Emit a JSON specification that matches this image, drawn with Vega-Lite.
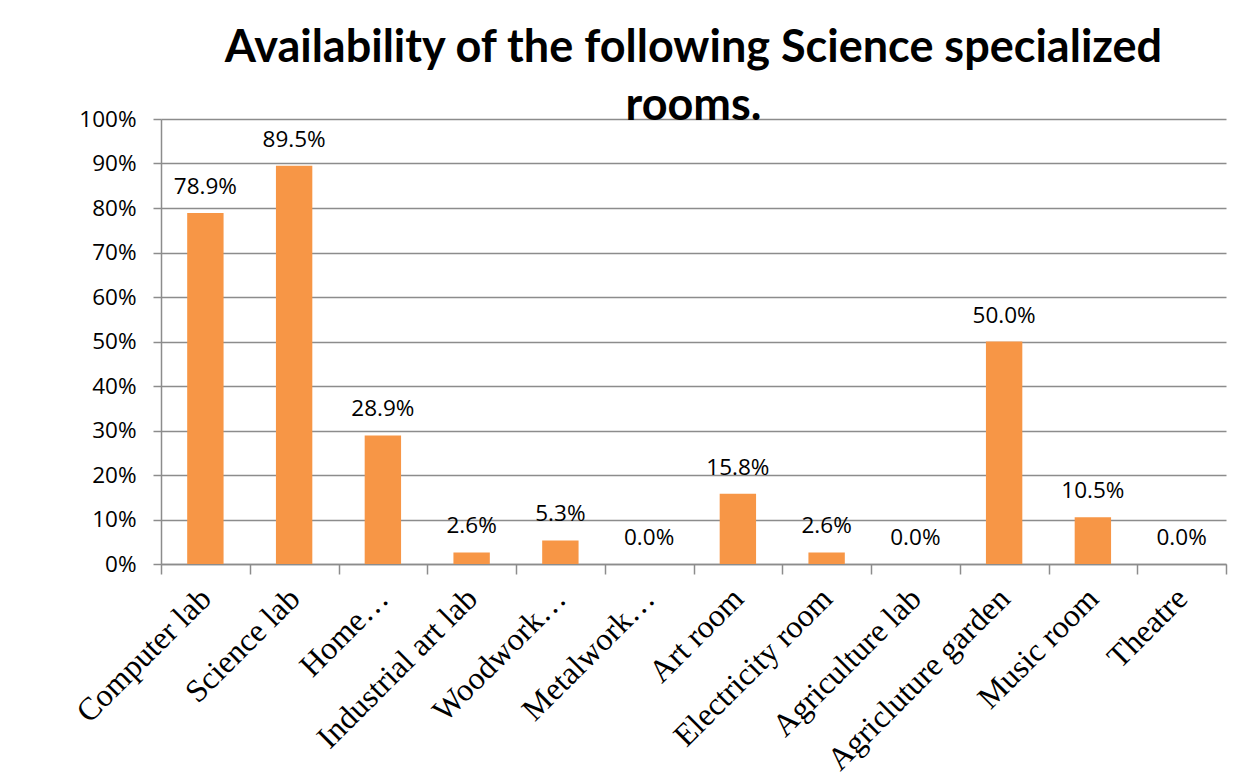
{
  "$schema": "https://vega.github.io/schema/vega-lite/v6.json",
  "width": 1065,
  "height": 445,
  "autosize": {"type": "none"},
  "padding": {"left": 161, "top": 119, "right": 26, "bottom": 219},
  "background": "white",
  "title": {
    "text": ["Availability of the following Science specialized", "rooms."],
    "anchor": "middle",
    "frame": "group",
    "font": "Lato",
    "fontWeight": "bold",
    "fontSize": 45,
    "lineHeight": 58,
    "color": "black",
    "offset": -21
  },
  "data": {
    "values": [
      {"room": "Computer lab", "pct": 0.789},
      {"room": "Science lab", "pct": 0.895},
      {"room": "Home…", "pct": 0.289},
      {"room": "Industrial art lab", "pct": 0.026},
      {"room": "Woodwork…", "pct": 0.053},
      {"room": "Metalwork…", "pct": 0.0},
      {"room": "Art room", "pct": 0.158},
      {"room": "Electricity room", "pct": 0.026},
      {"room": "Agriculture lab", "pct": 0.0},
      {"room": "Agricluture garden", "pct": 0.5},
      {"room": "Music room", "pct": 0.105},
      {"room": "Theatre", "pct": 0.0}
    ]
  },
  "encoding": {
    "x": {
      "field": "room",
      "type": "nominal",
      "sort": null,
      "title": null,
      "scale": {"paddingInner": 0, "paddingOuter": 0},
      "axis": {
        "labelAngle": -45,
        "labelAlign": "right",
        "labelBaseline": "middle",
        "labelFont": "Liberation Serif",
        "labelFontSize": 32,
        "labelColor": "black",
        "labelLimit": 400,
        "labelPadding": 19,
        "tickBand": "extent",
        "tickSize": 10,
        "tickColor": "#8c8c8c",
        "tickWidth": 1.5,
        "domainColor": "#8c8c8c",
        "domainWidth": 1.5,
        "grid": false
      }
    },
    "y": {
      "field": "pct",
      "type": "quantitative",
      "title": null,
      "scale": {"domain": [0, 1], "nice": false},
      "axis": {
        "values": [0, 0.1, 0.2, 0.3, 0.4, 0.5, 0.6, 0.7, 0.8, 0.9, 1],
        "format": ".0%",
        "labelFont": "Open Sans",
        "labelFontSize": 22.5,
        "labelColor": "black",
        "labelPadding": 17,
        "tickSize": 8,
        "tickColor": "#8c8c8c",
        "tickWidth": 1.5,
        "domainColor": "#8c8c8c",
        "domainWidth": 1.5,
        "grid": true,
        "gridColor": "#8c8c8c",
        "gridWidth": 1.5
      }
    }
  },
  "layer": [
    {"mark": {"type": "bar", "color": "#F79646", "width": {"band": 0.41}}},
    {
      "mark": {
        "type": "text",
        "font": "Open Sans",
        "fontSize": 22.5,
        "color": "black",
        "baseline": "alphabetic",
        "dy": -19
      },
      "encoding": {"text": {"field": "pct", "type": "quantitative", "format": ".1%"}}
    }
  ],
  "config": {"view": {"stroke": null}}
}
